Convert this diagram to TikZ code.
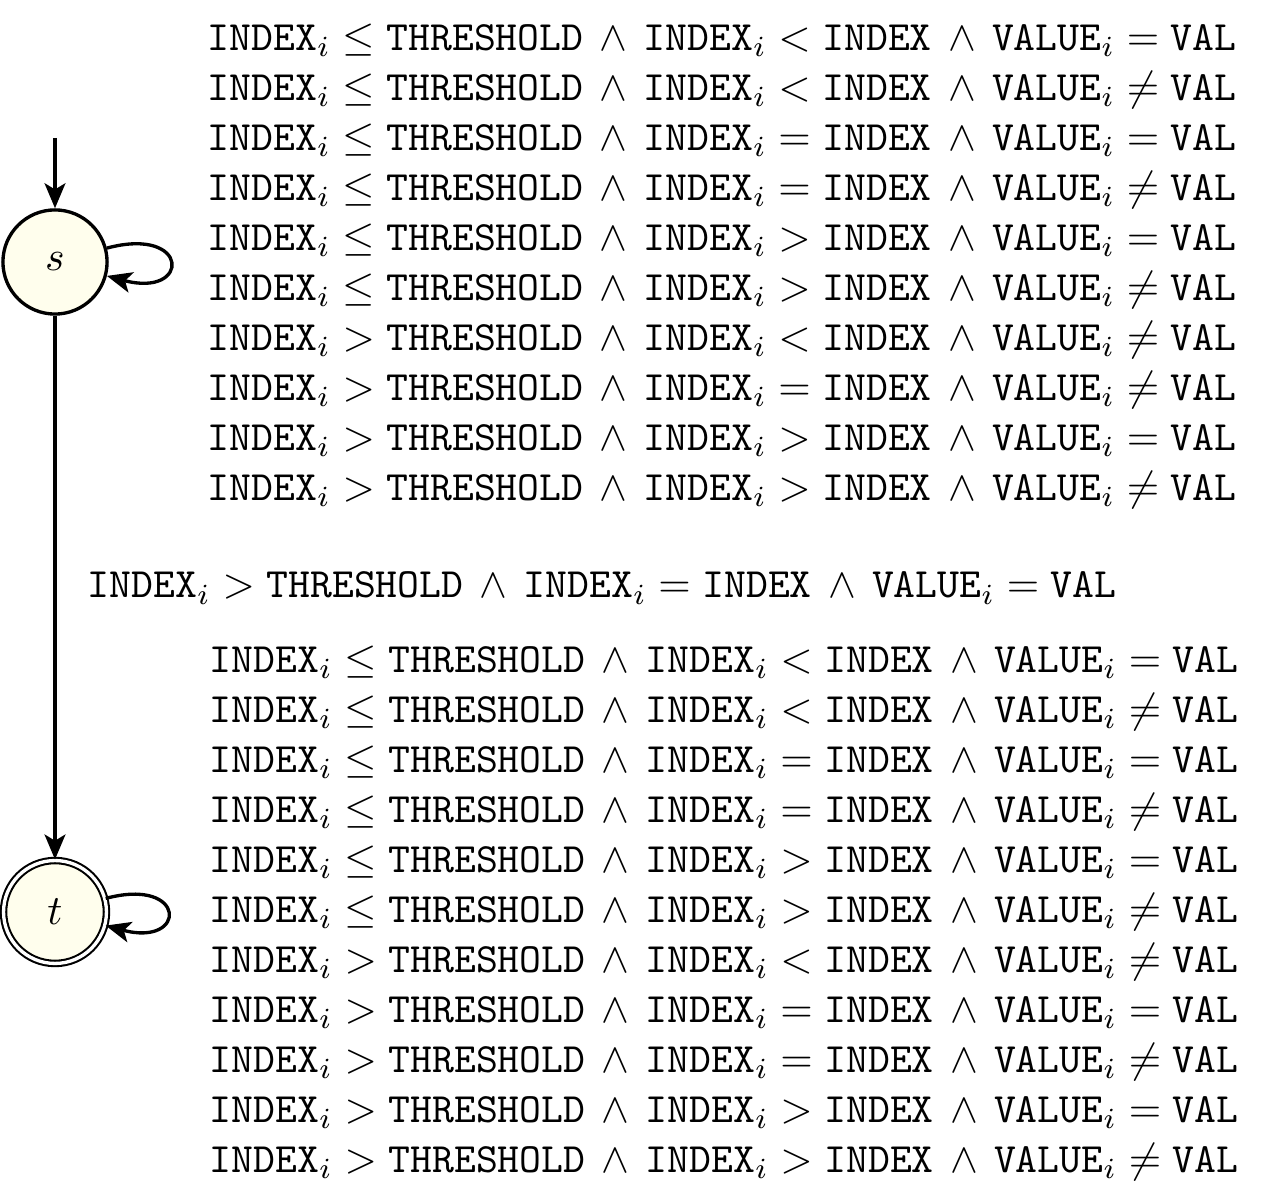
\documentclass[tikz,border=0pt]{standalone}
\usetikzlibrary{arrows.meta}
\newcommand{\tI}{\texttt{INDEX}}
\newcommand{\tT}{\texttt{THRESHOLD}}
\newcommand{\tV}{\texttt{VALUE}}
\newcommand{\tL}{\texttt{VAL}}
\newcommand{\myand}{\mathbin{\,\land\,}}
\begin{document}
\begin{tikzpicture}[x=0.24pt,y=-0.24pt,
  statebox/.style={circle,draw,thick,fill=yellow!7,minimum size=25pt,inner sep=0pt},
  accbox/.style={circle,draw,line width=0.5pt,double,double distance=0.8pt,fill=yellow!7,minimum size=24.7pt,inner sep=0pt},
  trans/.style={-{Stealth[length=6pt,width=5pt,inset=1.5pt]},thick},
  lbl/.style={align=left,inner sep=0pt,anchor=west}]
\useasboundingbox (0,0) rectangle (1273,1200);
\node[statebox] (s) at (55,262) {$s$};
\node[accbox] (t) at (55,912) {$t$};
\coordinate (init) at (55,138);
\draw[trans] (init) -- (s);
\draw[trans] (s) to[out=15,in=-15,looseness=8,min distance=5mm] (s);
\draw[trans] (t) to[out=15,in=-15,looseness=8,min distance=5mm] (t);
\draw[trans] (s) -- (t);
\node[lbl] (ls) at (207,266) {%
$\tI_i \leq \tT \myand \tI_i < \tI \myand \tV_i = \tL$\\
$\tI_i \leq \tT \myand \tI_i < \tI \myand \tV_i \neq \tL$\\
$\tI_i \leq \tT \myand \tI_i = \tI \myand \tV_i = \tL$\\
$\tI_i \leq \tT \myand \tI_i = \tI \myand \tV_i \neq \tL$\\
$\tI_i \leq \tT \myand \tI_i > \tI \myand \tV_i = \tL$\\
$\tI_i \leq \tT \myand \tI_i > \tI \myand \tV_i \neq \tL$\\
$\tI_i > \tT \myand \tI_i < \tI \myand \tV_i \neq \tL$\\
$\tI_i > \tT \myand \tI_i = \tI \myand \tV_i \neq \tL$\\
$\tI_i > \tT \myand \tI_i > \tI \myand \tV_i = \tL$\\
$\tI_i > \tT \myand \tI_i > \tI \myand \tV_i \neq \tL$};
\node[lbl] (le) at (87,588) {$\tI_i > \tT \myand \tI_i = \tI \myand \tV_i = \tL$};
\node[lbl] (lt) at (209,913) {%
$\tI_i \leq \tT \myand \tI_i < \tI \myand \tV_i = \tL$\\
$\tI_i \leq \tT \myand \tI_i < \tI \myand \tV_i \neq \tL$\\
$\tI_i \leq \tT \myand \tI_i = \tI \myand \tV_i = \tL$\\
$\tI_i \leq \tT \myand \tI_i = \tI \myand \tV_i \neq \tL$\\
$\tI_i \leq \tT \myand \tI_i > \tI \myand \tV_i = \tL$\\
$\tI_i \leq \tT \myand \tI_i > \tI \myand \tV_i \neq \tL$\\
$\tI_i > \tT \myand \tI_i < \tI \myand \tV_i \neq \tL$\\
$\tI_i > \tT \myand \tI_i = \tI \myand \tV_i = \tL$\\
$\tI_i > \tT \myand \tI_i = \tI \myand \tV_i \neq \tL$\\
$\tI_i > \tT \myand \tI_i > \tI \myand \tV_i = \tL$\\
$\tI_i > \tT \myand \tI_i > \tI \myand \tV_i \neq \tL$};
\end{tikzpicture}
\end{document}
